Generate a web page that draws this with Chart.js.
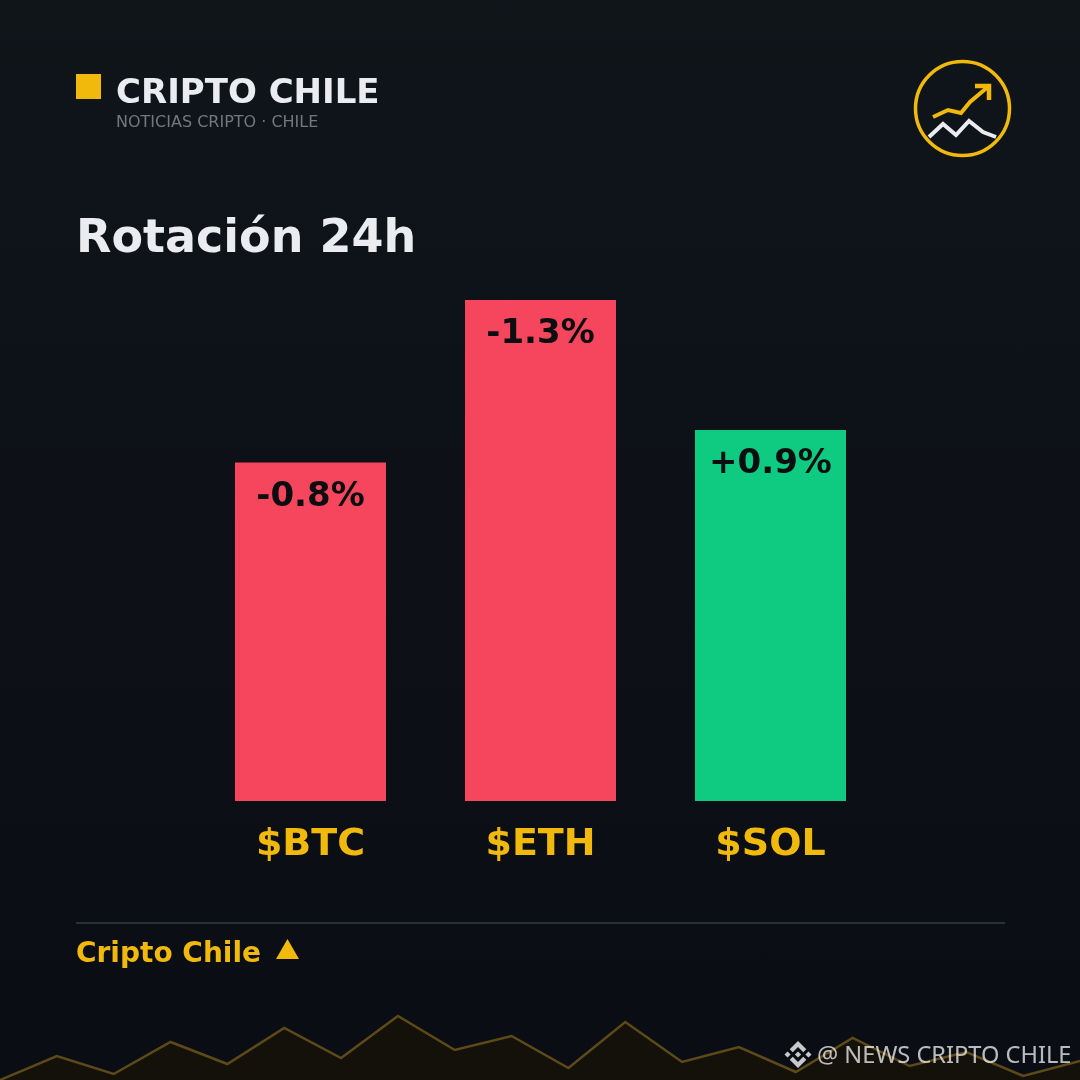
<!DOCTYPE html>
<html>
<head>
<meta charset="utf-8">
<title>Rotación 24h</title>
<script src="https://cdn.jsdelivr.net/npm/chart.js@4"></script>
<style>
  html, body { margin: 0; padding: 0; background: #0d1116; }
  #page { position: relative; width: 1080px; height: 1080px; overflow: hidden;
          background: linear-gradient(180deg, #10151a 0%, #0a0d13 100%); }
  canvas { position: absolute; left: 0; }
  #ridge { top: 1000px; }
  #bars { top: 0; }
</style>
</head>
<body>
<div id="page">
  <canvas id="ridge" width="1080" height="80"></canvas>
  <canvas id="bars" width="1080" height="1080"></canvas>
</div>
<script>
const categories = ['$BTC', '$ETH', '$SOL'];
const moves = [0.8, 1.3, 0.9];
const moveLabels = ['-0.8%', '-1.3%', '+0.9%'];
const barColors = ['#F6465D', '#F6465D', '#0ECB81'];
const ridgeHeights = [0, 24, 6, 38, 16, 52, 22, 64, 30, 44, 12, 58, 18, 33, 8, 42, 14, 28, 4, 19];

const YELLOW = '#F0B90B';
const WHITE = '#EAECEF';
const FONT = '"DejaVu Sans", sans-serif';
const AXIS_MIN = -0.2415;

function text(ctx, str, x, y, font, color, align) {
  ctx.font = font;
  ctx.fillStyle = color;
  ctx.textAlign = align || 'left';
  ctx.textBaseline = 'alphabetic';
  ctx.fillText(str, x, y);
}

function polyline(ctx, pts, color, width) {
  ctx.beginPath();
  pts.forEach((p, i) => (i ? ctx.lineTo(p[0], p[1]) : ctx.moveTo(p[0], p[1])));
  ctx.strokeStyle = color;
  ctx.lineWidth = width;
  ctx.stroke();
}

function drawBinanceMark(ctx, x, y, size, color) {
  const paths = [
    'm38.73 53.2 24.59-24.58 24.6 24.6 14.3-14.31L63.32 0 24.43 38.9z',
    'm0 63.31 14.3-14.31 14.31 14.31-14.31 14.3z',
    'm38.73 73.41 24.59 24.59 24.6-24.6 14.31 14.29-38.9 38.91-38.91-38.88z',
    'm98 63.31 14.3-14.31 14.31 14.3-14.31 14.32z',
    'm77.83 63.3-14.51-14.52-10.73 10.73-1.24 1.23-2.54 2.54 14.51 14.5 14.51-14.47z'
  ];
  ctx.save();
  ctx.translate(x, y);
  ctx.scale(size / 126.61, size / 126.61);
  ctx.fillStyle = color;
  paths.forEach(d => ctx.fill(new Path2D(d)));
  ctx.restore();
}

// header, footer and the value labels inside the bars
const decorations = {
  id: 'decorations',
  afterDraw(chart) {
    const ctx = chart.ctx;
    ctx.save();

    ctx.fillStyle = YELLOW;
    ctx.fillRect(76, 74, 25, 25);
    text(ctx, 'CRIPTO CHILE', 116, 103, 'bold 34px ' + FONT, WHITE);
    text(ctx, 'NOTICIAS CRIPTO · CHILE', 116, 127, '16px ' + FONT, '#73787E');
    text(ctx, 'Rotación 24h', 76, 252, 'bold 46px ' + FONT, WHITE);

    // logo
    ctx.lineJoin = 'miter';
    ctx.beginPath();
    ctx.arc(962.5, 108.5, 47, 0, Math.PI * 2);
    ctx.strokeStyle = YELLOW;
    ctx.lineWidth = 3.5;
    ctx.stroke();
    polyline(ctx, [[933, 117], [948, 110], [961, 113], [970, 102], [989, 86]], YELLOW, 4);
    polyline(ctx, [[975, 86], [989, 86], [989, 100]], YELLOW, 4.5);
    polyline(ctx, [[929, 137], [943, 124], [956, 135], [969, 121], [983, 132], [996, 137]], WHITE, 4);

    // value labels
    const bars = chart.getDatasetMeta(0).data;
    bars.forEach((bar, i) => {
      text(ctx, moveLabels[i], bar.x, bar.y + 43, 'bold 34px ' + FONT, '#0B0E11', 'center');
    });

    // footer
    ctx.fillStyle = '#2B2F36';
    ctx.fillRect(76, 922, 929, 2);
    text(ctx, 'Cripto Chile', 76, 962, 'bold 28px ' + FONT, YELLOW);
    ctx.beginPath();
    ctx.moveTo(276, 959);
    ctx.lineTo(299, 959);
    ctx.lineTo(287.5, 939);
    ctx.closePath();
    ctx.fillStyle = YELLOW;
    ctx.fill();

    // watermark
    drawBinanceMark(ctx, 784.5, 1041, 27, 'rgba(255,255,255,0.78)');
    text(ctx, '@ NEWS CRIPTO CHILE', 817, 1063, '23.6px "Noto Sans", sans-serif', 'rgba(255,255,255,0.72)');

    ctx.restore();
  }
};

new Chart(document.getElementById('ridge'), {
  type: 'line',
  data: {
    labels: ridgeHeights.map((_, i) => i),
    datasets: [{
      data: ridgeHeights,
      borderColor: '#5E4A18',
      borderWidth: 2.5,
      backgroundColor: '#14110A',
      fill: 'start',
      tension: 0,
      pointRadius: 0
    }]
  },
  options: {
    responsive: false,
    animation: false,
    layout: { padding: 0 },
    plugins: { legend: { display: false }, tooltip: { enabled: false } },
    scales: {
      x: { display: false, offset: false },
      y: { display: false, min: 0, max: 80 }
    }
  }
});

new Chart(document.getElementById('bars'), {
  type: 'bar',
  data: {
    labels: categories,
    datasets: [{
      data: moves,
      base: AXIS_MIN,
      backgroundColor: barColors,
      borderWidth: 0,
      categoryPercentage: 1,
      barPercentage: 151 / 230
    }]
  },
  options: {
    responsive: false,
    animation: false,
    layout: { padding: { left: 195.5, right: 194.5, top: 300, bottom: 0 } },
    plugins: { legend: { display: false }, tooltip: { enabled: false } },
    scales: {
      x: {
        grid: { display: false },
        border: { display: false },
        ticks: {
          color: YELLOW,
          font: { family: '"DejaVu Sans", sans-serif', size: 38, weight: 'bold' },
          padding: 13,
          maxRotation: 0
        },
        afterFit(scale) { scale.height = 279; }
      },
      y: { display: false, min: AXIS_MIN, max: 1.3 }
    }
  },
  plugins: [decorations]
});
</script>
</body>
</html>
